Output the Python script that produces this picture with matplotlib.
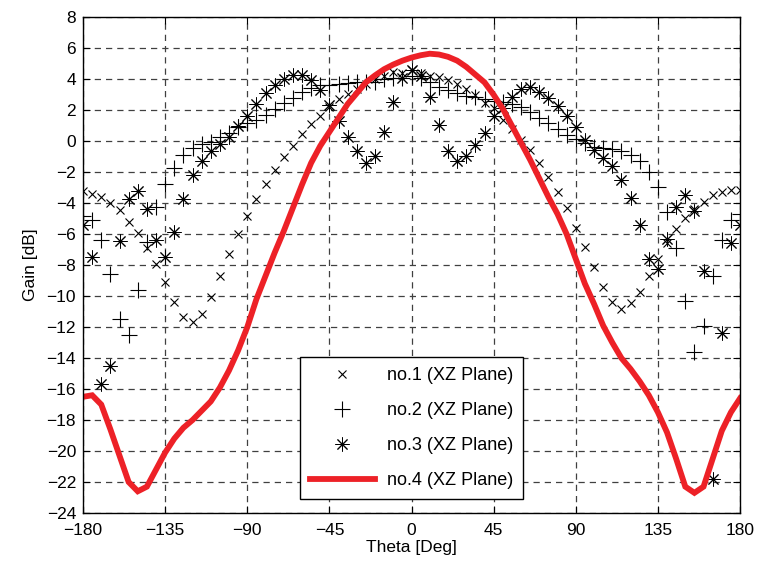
import numpy as np
import matplotlib
matplotlib.use("Agg")
import matplotlib.pyplot as plt

plt.rcParams['font.family'] = ['Liberation Sans', 'DejaVu Sans']

# Theta sampled every 5 degrees
theta = np.arange(-180, 181, 5)

gain_no1 = [
    -3.2, -3.4, -3.6, -4.0, -4.45, -5.2, -5.95, -6.9, -7.9, -9.1,
    -10.4, -11.35, -11.7, -11.15, -10.05, -8.7, -7.3, -6.0, -4.8, -3.7,
    -2.75, -1.85, -1.03, -0.3, 0.47, 1.12, 1.63, 2.23, 2.74, 3.08,
    3.4, 3.7, 4.0, 4.23, 4.49, 4.39, 4.6, 4.39, 4.23, 4.17,
    3.95, 3.7, 3.35, 2.99, 2.47, 2.13, 1.37, 0.77, 0.1, -0.56,
    -1.42, -2.28, -3.3, -4.3, -5.6, -6.84, -8.13, -9.38, -10.35, -10.8,
    -10.45, -9.74, -8.67, -7.61, -6.58, -5.68, -4.97, -4.39, -3.9, -3.46,
    -3.25, -3.14, -3.14,
]

gain_no2 = [
    -4.8, -5.1, -6.4, -8.6, -11.5, -12.5, -9.6, -6.5, -4.27, -2.75,
    -1.72, -0.9, -0.46, -0.2, -0.05, 0.25, 0.56, 0.94, 1.18, 1.37,
    1.7, 2.08, 2.45, 2.81, 3.16, 3.42, 3.6, 3.63, 3.7, 3.75,
    3.8, 3.8, 3.85, 4.0, 4.1, 4.1, 4.2, 4.05, 3.8, 3.5,
    3.3, 3.1, 2.95, 2.85, 2.7, 2.6, 2.5, 2.4, 2.2, 1.9,
    1.5, 1.2, 0.8, 0.4, 0.15, -0.1, -0.35, -0.45, -0.5, -0.65,
    -0.9, -1.25, -1.96, -2.93, -4.54, -6.9, -10.3, -13.6, -11.9, -8.7,
    -6.4, -5.1, -4.7,
]

gain_no3 = [
    -5.4, -7.5, -15.7, -14.5, -6.45, -3.72, -3.19, -4.37, -6.35, -7.45,
    -5.85, -3.76, -2.2, -1.3, -0.6, -0.17, 0.3, 0.96, 1.62, 2.38,
    3.09, 3.63, 4.03, 4.27, 4.27, 3.95, 3.32, 2.33, 1.3, 0.3,
    -0.65, -1.38, -0.98, 0.6, 2.56, 4.07, 4.6, 4.2, 2.87, 1.06,
    -0.62, -1.3, -0.93, -0.24, 0.55, 1.6, 2.15, 2.88, 3.38, 3.48,
    3.2, 2.8, 2.27, 1.64, 0.91, 0.1, -0.55, -1.09, -1.6, -2.5,
    -3.68, -5.4, -7.6, -8.24, -6.3, -4.24, -3.5, -4.5, -8.36, -21.8,
    -12.35, -6.6, -5.4,
]

gain_no4 = [
    -16.5, -16.4, -17.0, -18.6, -20.3, -22.0, -22.6, -22.3, -21.2, -20.1,
    -19.2, -18.5, -18.0, -17.4, -16.8, -15.9, -14.8, -13.5, -12.0, -10.2,
    -8.7, -7.2, -5.8, -4.3, -2.8, -1.4, -0.3, 0.6, 1.5, 2.4,
    3.1, 3.8, 4.25, 4.65, 4.95, 5.2, 5.4, 5.55, 5.65, 5.6,
    5.45, 5.2, 4.8, 4.3, 3.8, 3.0, 2.1, 1.0, -0.1, -1.2,
    -2.4, -3.6, -4.7, -6.0, -7.6, -9.2, -10.5, -11.9, -13.0, -14.0,
    -14.7, -15.5, -16.4, -17.5, -18.8, -20.5, -22.3, -22.7, -22.3, -20.5,
    -18.7, -17.5, -16.6,
]

labels = ['no.1 (XZ Plane)', 'no.2 (XZ Plane)', 'no.3 (XZ Plane)', 'no.4 (XZ Plane)']
x_ticks = [-180, -135, -90, -45, 0, 45, 90, 135, 180]
y_ticks = list(range(-24, 9, 2))

fig = plt.figure(figsize=(7.63, 5.71), dpi=100)
ax = fig.add_axes([0.1088, 0.1016, 0.8611, 0.8681])

asterisk = (8, 2, 0)
ax.plot(theta, gain_no1, linestyle='none', marker='x', markersize=5.5,
        markeredgewidth=0.8, color='black', label=labels[0])
ax.plot(theta, gain_no2, linestyle='none', marker='+', markersize=11,
        markeredgewidth=0.8, color='black', label=labels[1])
ax.plot(theta, gain_no3, linestyle='none', marker=asterisk, markersize=10,
        markeredgewidth=0.7, color='black', label=labels[2])
ax.plot(theta, gain_no4, linestyle='-', linewidth=4.2, color='#ED2127',
        solid_joinstyle='miter', label=labels[3])

ax.set_xlim(-180, 180)
ax.set_ylim(-24, 8)
ax.set_xticks(x_ticks)
ax.set_yticks(y_ticks)
ax.grid(True, linestyle=(0, (5, 4)), color='#404040', linewidth=0.9)
ax.tick_params(direction='in', top=True, right=True, length=5,
               labelsize=12.5, width=0.8)
ax.tick_params(axis='x', pad=7)
ax.tick_params(axis='y', pad=5)
for s in ax.spines.values():
    s.set_linewidth(1.0)

ax.set_xlabel('Theta [Deg]', fontsize=12.5, labelpad=2)
ax.set_ylabel('Gain [dB]', fontsize=12.5, labelpad=6)

leg = ax.legend(loc='lower center', bbox_to_anchor=(0.5, 0.01),
                fontsize=13, frameon=True, fancybox=False,
                edgecolor='black', framealpha=1, handlelength=3.6,
                labelspacing=1.0, borderpad=0.55, handletextpad=0.7)
leg.get_frame().set_linewidth(1.0)

fig.savefig('out.png', dpi=100)
